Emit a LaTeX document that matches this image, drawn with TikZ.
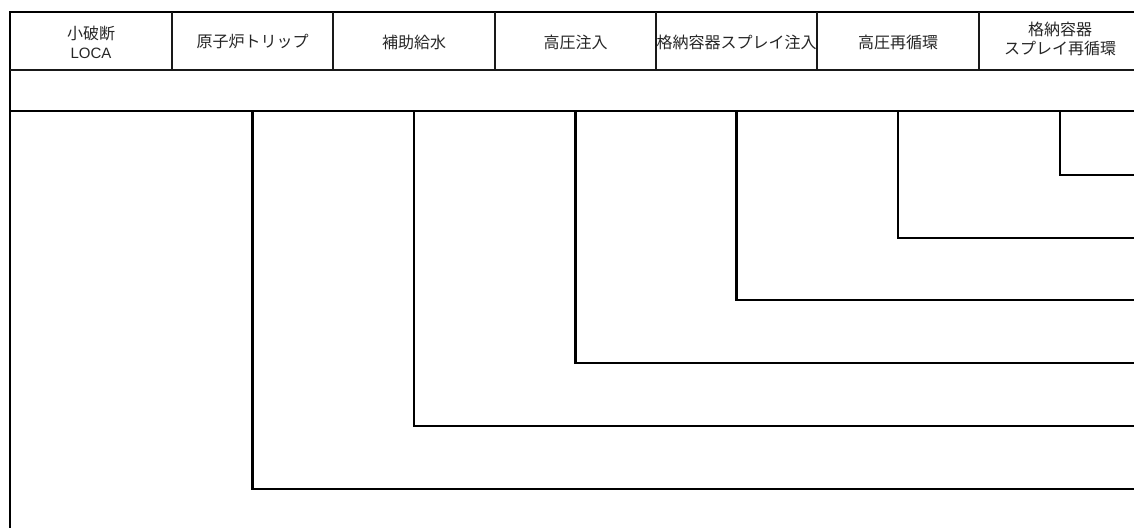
\documentclass[tikz,border=0pt]{standalone}
\usepackage{fontspec}
\newfontfamily\jp{Noto Sans CJK JP}
\newfontfamily\lat{Liberation Sans}
\begin{document}
\begin{tikzpicture}[x=1pt,y=-1pt,
  hdr/.style={font=\jp\fontsize{16}{19}\selectfont, text=black!85, align=center, inner sep=0pt},
  heavy/.style={line width=2.6pt, black},
  medium/.style={line width=1.8pt, black!90},
  branch/.style={line width=2.6pt, black, line join=miter}]
\useasboundingbox (0,0) rectangle (1134,527);
\clip (0,0) rectangle (1134,527);
% frame and rows
\draw[heavy] (10,540) -- (10,12) -- (1141,12);
\draw[medium] (10,70) -- (1141,70);
\draw[heavy] (10,111) -- (1141,111);
\foreach \x in {172,333,495,656,817,979,1141}
  \draw[medium] (\x,12) -- (\x,70);
% headers
\node[hdr] (h1) at (91,42)    {小破断\\{\lat\fontsize{15}{19}\selectfont LOCA}};
\node[hdr] (h2) at (252.5,42) {原子炉トリップ};
\node[hdr] (h3) at (414,42)   {補助給水};
\node[hdr] (h4) at (575.5,42) {高圧注入};
\node[hdr] (h5) at (736.5,42) {格納容器スプレイ注入};
\node[hdr] (h6) at (898,42)   {高圧再循環};
\node[hdr] (h7) at (1060,39)  {格納容器\\スプレイ再循環};
% branch start points on the row line and end points at right edge
\coordinate (t2) at (252.5,111); \coordinate (e2) at (1145,489);
\coordinate (t3) at (414,111);   \coordinate (e3) at (1145,426);
\coordinate (t4) at (575.5,111); \coordinate (e4) at (1145,363);
\coordinate (t5) at (736.5,111); \coordinate (e5) at (1145,300);
\coordinate (t6) at (898,111);   \coordinate (e6) at (1145,238);
\coordinate (t7) at (1060,111);  \coordinate (e7) at (1145,175);
\foreach \i in {2,...,7}
  \draw[branch] (t\i) |- (e\i);
\end{tikzpicture}
\end{document}
